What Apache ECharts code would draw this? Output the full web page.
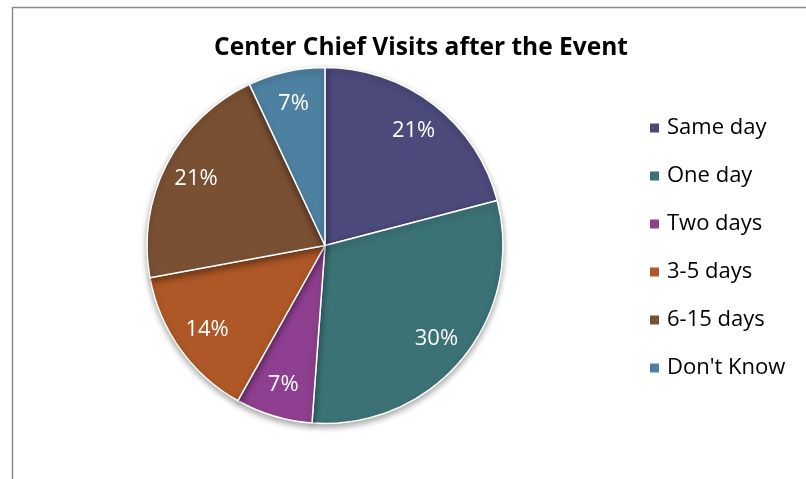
<!DOCTYPE html>
<html>
<head>
<meta charset="utf-8">
<script src="https://cdn.jsdelivr.net/npm/echarts@6/dist/echarts.min.js"></script>
<style>
html,body{margin:0;padding:0;background:#fff;}
#c{width:806px;height:479px;}
</style>
</head>
<body>
<div id="c"></div>
<script>
const categories = ["Same day", "One day", "Two days", "3-5 days", "6-15 days", "Don't Know"];
const values = [9, 13, 3, 6, 9, 3];
const colors = ["#4B4A7B", "#3B7276", "#8E3F8F", "#AD5826", "#7A5033", "#4E80A1"];
const titleText = "Center Chief Visits after the Event";

const FONT = "Open Sans";
const data = categories.map((name, i) => ({ name: name, value: values[i], itemStyle: { color: colors[i] } }));

const chart = echarts.init(document.getElementById('c'), null, { renderer: 'canvas' });
chart.setOption({
  animation: false,
  title: {
    text: titleText,
    left: 416, top: 31, textAlign: 'center',
    textStyle: { fontFamily: FONT, fontWeight: 'bold', fontSize: 24.5, color: '#000' }
  },
  legend: {
    orient: 'vertical',
    left: 643, top: 112,
    itemWidth: 11, itemHeight: 11, itemGap: 26,
    icon: 'rect',
    textStyle: { fontFamily: FONT, fontSize: 22, color: '#000', lineHeight: 22, padding: [0, 0, 0, 2] },
    data: categories
  },
  graphic: [{
    type: 'polyline',
    shape: { points: [[12.5, 479], [12.5, 7.5], [806, 7.5]] },
    style: { stroke: '#8a8a8a', lineWidth: 1.5, fill: null },
    silent: true
  }],
  series: [{
    type: 'pie',
    center: [325, 245.5],
    radius: [0, 178],
    startAngle: 90,
    clockwise: true,
    label: { show: false },
    labelLine: { show: false },
    itemStyle: { borderColor: '#fff', borderWidth: 1.5, shadowBlur: 6, shadowOffsetY: 3, shadowColor: 'rgba(0,0,0,0.35)' },
    data: data
  }, {
    type: 'pie',
    center: [325, 245.5],
    radius: [106, 178],
    startAngle: 90,
    clockwise: true,
    silent: true,
    legendHoverLink: false,
    itemStyle: { color: 'transparent', borderWidth: 0 },
    label: {
      show: true, position: 'inside',
      formatter: p => Math.round(p.percent) + '%',
      fontFamily: FONT, fontSize: 22, color: '#fff'
    },
    labelLine: { show: false },
    data: categories.map((name, i) => ({ name: name, value: values[i], itemStyle: { color: 'transparent' } }))
  }]
});
</script>
</body>
</html>
